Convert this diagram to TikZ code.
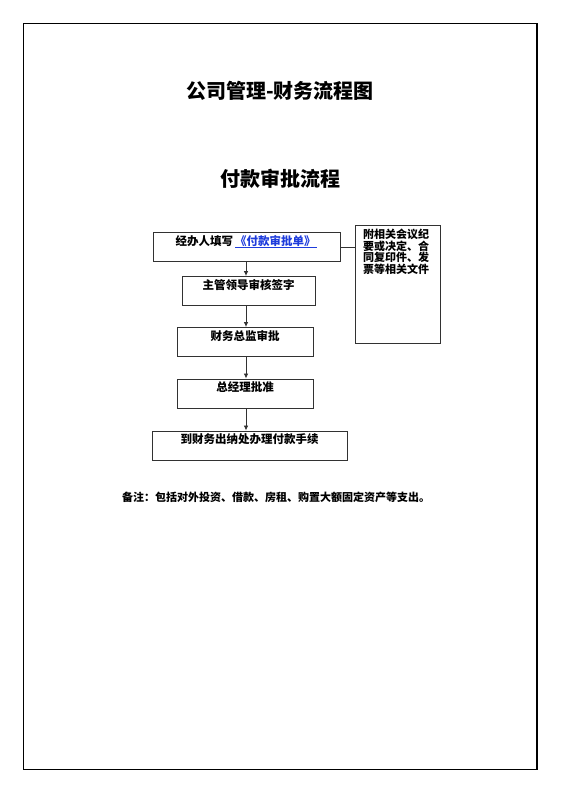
\documentclass[tikz,border=0pt]{standalone}
\usepackage{fontspec}
\setmainfont{Noto Sans CJK SC}
\usetikzlibrary{arrows.meta}
\definecolor{linkblue}{RGB}{30,60,220}
\definecolor{linegray}{RGB}{50,50,50}

\begin{document}
\begin{tikzpicture}[x=1pt,y=-1pt,
  stepbox/.style={draw=linegray, line width=0.9pt, inner ysep=2pt, text height=10.5pt, text depth=14.5pt, font=\bfseries\fontsize{11.5}{13}\selectfont},
  flow/.style={draw=linegray, line width=0.8pt, -{Latex[length=5pt,width=4.5pt]}}]
\useasboundingbox (0,0) rectangle (560,792);
\draw[line width=1.4pt] (23.5,23.5) rectangle (537,769.5);

\node[font=\bfseries\fontsize{20}{24}\selectfont] (title) at (280,91) {公司管理-财务流程图};
\node[font=\bfseries\fontsize{20}{24}\selectfont] (subtitle) at (280.5,179) {付款审批流程};

\node[stepbox, minimum width=187pt] (fill) at (246.5,247) {经办人填写\,\textcolor{linkblue}{\underline{《付款审批单》\,}}};
\node[stepbox, minimum width=133pt] (leader) at (248.5,291) {主管领导审核签字};
\node[stepbox, minimum width=136pt] (director) at (245,342) {财务总监审批};
\node[stepbox, minimum width=136pt] (manager) at (245,393.5) {总经理批准};
\node[stepbox, minimum width=195pt] (cashier) at (249.5,445.5) {到财务出纳处办理付款手续};

\node[draw=linegray, line width=0.9pt, minimum width=85pt, minimum height=118pt] (attach) at (397.5,284) {};
\node[anchor=north west, inner sep=1pt, align=left, font=\bfseries\fontsize{11}{11.5}\selectfont] (attachtext) at (362,228) {附相关会议纪\\要或决定、合\\同复印件、发\\票等相关文件};

\draw[linegray, line width=0.9pt] (fill.east) -- (fill.east -| attach.west);
\draw[flow] (fill.south -| 246,0) -- (leader.north -| 246,0);
\draw[flow] (leader.south -| 246,0) -- (director.north -| 246,0);
\draw[flow] (director.south -| 246,0) -- (manager.north -| 246,0);
\draw[flow] (manager.south -| 246,0) -- (cashier.north -| 246,0);

\node[anchor=west, inner sep=0pt, font=\bfseries\fontsize{11}{13}\selectfont] (note) at (122,497) {备注：包括对外投资、借款、房租、购置大额固定资产等支出。};
\end{tikzpicture}
\end{document}
